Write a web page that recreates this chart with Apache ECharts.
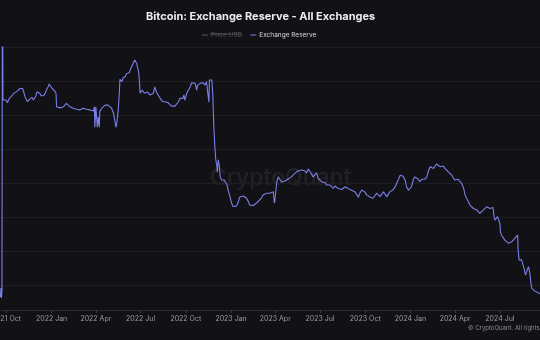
<!DOCTYPE html>
<html>
<head>
<meta charset="utf-8">
<script src="https://cdn.jsdelivr.net/npm/echarts@6/dist/echarts.min.js"></script>
<style>
html,body{margin:0;padding:0;background:#121216;}
#c{width:540px;height:340px;}
</style>
</head>
<body>
<div id="c"></div>
<script>
// ---- DATA (Exchange Reserve, thousand BTC) ----
const TITLE = 'Bitcoin: Exchange Reserve - All Exchanges';
const seriesNames = ['Price USD', 'Exchange Reserve'];

const dates2021 = ['2021-09-18','2021-09-19','2021-09-20','2021-09-21','2021-09-22','2021-09-23','2021-09-24','2021-09-26','2021-09-30','2021-10-03','2021-10-07','2021-10-12','2021-10-16','2021-10-21','2021-10-25','2021-10-29','2021-11-01','2021-11-03','2021-11-06','2021-11-08','2021-11-10','2021-11-13','2021-11-17','2021-11-20','2021-11-22','2021-11-25','2021-11-28','2021-11-30','2021-12-02','2021-12-05','2021-12-08','2021-12-11','2021-12-14','2021-12-17','2021-12-19','2021-12-22','2021-12-25','2021-12-27','2021-12-30'];
const reserve2021 = [2579,2565,2591,2562,2585,3600,3144,3141,3144,3136,3149,3156,3164,3168,3173,3178,3183,3178,3164,3154,3159,3139,3146,3142,3152,3144,3149,3156,3168,3165,3164,3156,3152,3159,3164,3175,3183,3191,3188];

const dates2022 = ['2022-01-02','2022-01-05','2022-01-07','2022-01-10','2022-01-11','2022-01-15','2022-01-18','2022-01-25','2022-01-31','2022-02-07','2022-02-14','2022-02-21','2022-02-27','2022-03-06','2022-03-13','2022-03-20','2022-03-27','2022-03-29','2022-03-30','2022-04-01','2022-04-04','2022-04-06','2022-04-08','2022-04-09','2022-04-13','2022-04-16','2022-04-20','2022-04-23','2022-04-26','2022-04-30','2022-05-03','2022-05-07','2022-05-10','2022-05-12','2022-05-13','2022-05-15','2022-05-17','2022-05-19','2022-05-20','2022-05-24','2022-05-26','2022-05-31','2022-06-03','2022-06-05','2022-06-08','2022-06-11','2022-06-14','2022-06-16','2022-06-19','2022-06-21','2022-06-23','2022-06-25','2022-06-27','2022-06-29','2022-06-30','2022-07-02','2022-07-04','2022-07-07','2022-07-09','2022-07-12','2022-07-15','2022-07-18','2022-07-20','2022-07-24','2022-07-27','2022-07-30','2022-08-01','2022-08-04','2022-08-07','2022-08-10','2022-08-12','2022-08-15','2022-08-18','2022-08-20','2022-08-23','2022-08-26','2022-08-30','2022-09-02','2022-09-05','2022-09-09','2022-09-12','2022-09-16','2022-09-19','2022-09-23','2022-09-25','2022-09-27','2022-09-29','2022-10-01','2022-10-03','2022-10-06','2022-10-10','2022-10-13','2022-10-16','2022-10-20','2022-10-23','2022-10-25','2022-10-28','2022-10-30','2022-11-02','2022-11-05','2022-11-09','2022-11-12','2022-11-16','2022-11-17','2022-11-18','2022-11-20','2022-11-23','2022-11-25','2022-11-27','2022-11-29','2022-12-01','2022-12-03','2022-12-04','2022-12-06','2022-12-08','2022-12-10','2022-12-13','2022-12-18','2022-12-22','2022-12-24','2022-12-26','2022-12-30'];
const reserve2022 = [3178,3173,3171,3164,3124,3120,3121,3124,3134,3124,3120,3117,3115,3120,3117,3115,3112,3124,3064,3124,3064,3095,3064,3110,3120,3124,3129,3131,3129,3124,3120,3105,3080,3064,3070,3095,3124,3173,3205,3198,3208,3214,3222,3227,3224,3237,3242,3252,3262,3260,3252,3247,3227,3193,3164,3159,3173,3168,3164,3159,3168,3164,3159,3154,3164,3183,3173,3162,3156,3149,3144,3139,3142,3139,3134,3136,3139,3126,3124,3126,3129,3139,3149,3144,3149,3159,3144,3154,3164,3173,3183,3195,3198,3193,3173,3188,3183,3193,3191,3195,3188,3198,3193,3138,3203,3208,3203,3154,3065,3007,2968,2953,2932,2968,2953,2918,2909,2909,2906,2894,2879,2859];

const dates2023 = ['2023-01-02','2023-01-05','2023-01-09','2023-01-12','2023-01-15','2023-01-19','2023-01-23','2023-01-26','2023-01-29','2023-02-01','2023-02-05','2023-02-08','2023-02-12','2023-02-15','2023-02-19','2023-02-22','2023-02-25','2023-02-28','2023-03-04','2023-03-07','2023-03-11','2023-03-14','2023-03-18','2023-03-21','2023-03-25','2023-03-28','2023-03-30','2023-03-31','2023-04-04','2023-04-07','2023-04-11','2023-04-14','2023-04-17','2023-04-21','2023-04-24','2023-04-27','2023-05-01','2023-05-04','2023-05-08','2023-05-11','2023-05-15','2023-05-18','2023-05-21','2023-05-25','2023-05-28','2023-05-31','2023-06-04','2023-06-07','2023-06-11','2023-06-14','2023-06-17','2023-06-21','2023-06-24','2023-06-27','2023-07-01','2023-07-04','2023-07-08','2023-07-11','2023-07-15','2023-07-18','2023-07-21','2023-07-25','2023-07-28','2023-07-31','2023-08-04','2023-08-07','2023-08-11','2023-08-14','2023-08-17','2023-08-21','2023-08-24','2023-08-27','2023-08-31','2023-09-03','2023-09-07','2023-09-10','2023-09-14','2023-09-17','2023-09-20','2023-09-24','2023-09-27','2023-09-30','2023-10-04','2023-10-07','2023-10-11','2023-10-14','2023-10-17','2023-10-21','2023-10-24','2023-10-27','2023-10-31','2023-11-03','2023-11-07','2023-11-10','2023-11-14','2023-11-17','2023-11-20','2023-11-24','2023-11-27','2023-11-30','2023-12-04','2023-12-07','2023-12-11','2023-12-14','2023-12-17','2023-12-21','2023-12-24','2023-12-28','2023-12-31'];
const reserve2023 = [2841,2831,2835,2832,2841,2859,2856,2862,2862,2856,2846,2835,2832,2834,2835,2841,2844,2850,2856,2865,2868,2870,2865,2870,2870,2874,2841,2847,2903,2918,2909,2903,2903,2906,2906,2912,2915,2918,2923,2929,2933,2936,2940,2938,2943,2936,2930,2941,2933,2928,2918,2923,2930,2914,2909,2904,2899,2901,2894,2889,2894,2889,2884,2891,2889,2884,2889,2881,2879,2889,2891,2884,2881,2879,2881,2874,2865,2858,2870,2879,2881,2874,2865,2860,2858,2862,2855,2860,2870,2865,2860,2865,2874,2870,2860,2865,2874,2879,2881,2887,2884,2909,2923,2925,2920,2909,2889,2879,2877];

const dates2024 = ['2024-01-03','2024-01-07','2024-01-10','2024-01-14','2024-01-17','2024-01-20','2024-01-24','2024-01-27','2024-01-30','2024-02-03','2024-02-06','2024-02-10','2024-02-13','2024-02-17','2024-02-20','2024-02-23','2024-02-27','2024-03-01','2024-03-04','2024-03-08','2024-03-11','2024-03-15','2024-03-18','2024-03-21','2024-03-25','2024-03-28','2024-03-31','2024-04-04','2024-04-07','2024-04-11','2024-04-14','2024-04-17','2024-04-19','2024-04-21','2024-04-24','2024-04-28','2024-05-01','2024-05-04','2024-05-08','2024-05-11','2024-05-15','2024-05-18','2024-05-21','2024-05-25','2024-05-28','2024-05-31','2024-06-04','2024-06-07','2024-06-11','2024-06-14','2024-06-17','2024-06-19','2024-06-21','2024-06-24','2024-06-26','2024-06-28','2024-06-30','2024-07-01','2024-07-02','2024-07-04','2024-07-08','2024-07-11','2024-07-15','2024-07-18','2024-07-21','2024-07-25','2024-07-28','2024-07-31','2024-08-04','2024-08-06','2024-08-07','2024-08-09','2024-08-12','2024-08-14','2024-08-16','2024-08-18','2024-08-20','2024-08-22','2024-08-24','2024-08-26','2024-08-28','2024-08-30','2024-08-31','2024-09-02','2024-09-04','2024-09-07','2024-09-10','2024-09-14','2024-09-17','2024-09-20'];
const reserve2024 = [2889,2911,2918,2914,2911,2904,2911,2914,2911,2917,2933,2948,2950,2943,2948,2956,2953,2948,2953,2950,2943,2938,2933,2928,2923,2918,2909,2914,2911,2914,2899,2889,2879,2865,2855,2845,2835,2830,2825,2823,2821,2816,2811,2813,2820,2823,2830,2825,2825,2830,2828,2801,2791,2793,2801,2803,2801,2781,2757,2747,2742,2732,2727,2723,2724,2727,2732,2737,2742,2747,2703,2674,2669,2674,2678,2669,2644,2629,2624,2634,2654,2656,2634,2605,2590,2585,2582,2580,2577,2574];

const priceUSD = []; // hidden series (legend deselected)

const tickDates = ['2021-10-01','2022-01-01','2022-04-01','2022-07-01','2022-10-01','2023-01-01','2023-04-01','2023-07-01','2023-10-01','2024-01-01','2024-04-01','2024-07-01'];
const tickLabels = ['2021 Oct','2022 Jan','2022 Apr','2022 Jul','2022 Oct','2023 Jan','2023 Apr','2023 Jul','2023 Oct','2024 Jan','2024 Apr','2024 Jul'];

// ---- BUILD ----
function toTs(s) {
  const p = s.split('-').map(Number);
  return Date.UTC(p[0], p[1] - 1, p[2]);
}
const allDates = dates2021.concat(dates2022, dates2023, dates2024);
const allRes = reserve2021.concat(reserve2022, reserve2023, reserve2024);
const reserveData = allDates.map((d, i) => [toTs(d), allRes[i]]);
const tickTs = tickDates.map(toTs);

const chart = echarts.init(document.getElementById('c'), null, {renderer: 'canvas'});
const option = {
  backgroundColor: '#121216',
  animation: false,
  title: {
    text: TITLE,
    left: 146,
    top: 11,
    padding: 0,
    textStyle: {color: '#ececf0', fontSize: 11, fontWeight: 'bold', fontFamily: 'Inter'}
  },
  legend: {
    data: seriesNames,
    top: 31.5,
    left: 202,
    padding: 0,
    icon: 'rect',
    itemWidth: 6,
    itemHeight: 1,
    itemGap: 8,
    textStyle: {color: '#d8d8dc', fontSize: 6.5, fontFamily: 'Inter', padding: [0, 0, 0, -2]},
    inactiveColor: '#55555c',
    selected: {'Price USD': false}
  },
  grid: {left: 0, right: 0, top: 47, bottom: 30, outerBoundsMode: 'none', containLabel: false},
  xAxis: {
    type: 'value',
    min: toTs('2021-09-18'),
    max: toTs('2024-09-20') + 12 * 3600 * 1000,
    axisLine: {show: true, lineStyle: {color: '#2a2a30'}},
    axisTick: {show: true, customValues: tickTs, length: 3, lineStyle: {color: '#3a3a42'}},
    axisLabel: {
      customValues: tickTs,
      color: '#9a9aa2',
      fontSize: 7,
      fontFamily: 'Inter',
      margin: 5,
      formatter: function (v) {
        const i = tickTs.indexOf(v);
        return i >= 0 ? tickLabels[i] : '';
      }
    },
    splitLine: {show: false}
  },
  yAxis: {
    type: 'value',
    min: 2526.5,
    max: 3300,
    splitNumber: 8,
    axisLabel: {show: false},
    axisLine: {show: false},
    axisTick: {show: false},
    splitLine: {show: true, lineStyle: {color: '#1e1e24', width: 1}}
  },
  series: [
    {name: 'Price USD', type: 'line', data: priceUSD, showSymbol: false, lineStyle: {color: '#9a9aa2', width: 1}, itemStyle: {color: '#9a9aa2'}},
    {name: 'Exchange Reserve', type: 'line', data: reserveData, showSymbol: false, lineStyle: {color: '#7b7fe8', width: 1.1}, itemStyle: {color: '#7b7fe8'}}
  ],
  graphic: [
    {type: 'text', left: 210, top: 167, z: 0, silent: true,
     style: {text: 'CryptoQuant', fill: 'rgba(255,255,255,0.07)', fontSize: 23, fontWeight: 500, fontFamily: 'Inter'}},
    {type: 'text', left: 468, top: 325, silent: true,
     style: {text: '© CryptoQuant. All rights reserved.', fill: '#8a8a92', fontSize: 6, fontFamily: 'Inter'}},
    // strikethrough on the deselected legend label
    {type: 'line', silent: true, z: 100,
     shape: {x1: 210, y1: 34, x2: 242, y2: 34},
     style: {stroke: '#5c5c64', lineWidth: 0.8}}
  ]
};
chart.setOption(option);
</script>
</body>
</html>
